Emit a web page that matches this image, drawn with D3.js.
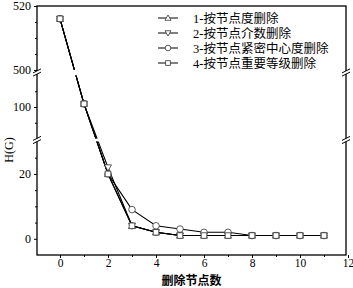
<!DOCTYPE html>
<html>
<head>
<meta charset="utf-8">
<script src="https://cdn.jsdelivr.net/npm/d3@7"></script>
<style>
  body { margin: 0; background: #fff; }
  svg { display: block; }
  .tick text { font-family: "Liberation Serif", "DejaVu Serif", serif; font-size: 12px; }
  .xax .tick text { font-size: 11.5px; }
</style>
</head>
<body>
<script>
const WIDTH = 353;
const HEIGHT = 288;

// values
const nodesRemoved = [0, 1, 2, 3, 4, 5, 6, 7, 8, 9, 10, 11];
const byDegree = [516, 101, 20, 4, 2, 1, 1, 1, 1, 1, 1, 1];
const byBetweenness = [516, 101, 22, 4, 2, 1, 1, 1, 1, 1, 1, 1];
const byCloseness = [516, 101, 20, 9, 4, 3, 2, 2, 1, 1, 1, 1];
const byImportance = [516, 101, 20, 4, 2, 1, 1, 1, 1, 1, 1, 1];
const seriesNames = ['1-按节点度删除', '2-按节点介数删除', '3-按节点紧密中心度删除', '4-按节点重要等级删除'];
const seriesSymbols = ['up', 'down', 'circle', 'square'];
const xTicks = [0, 2, 4, 6, 8, 10, 12];
const yMajorTicks = [[0, 20], [100], [500, 520]];
const yMinorTicks = [[5, 10, 15, 25], [95, 105], [505, 510, 515]];

const pLeft = 37, pRight = 346, pTop = 6, pBottom = 255;

var xScale = d3.scaleLinear().domain([-1, 12]).range([pLeft - 1, pRight + 2]);

// broken y axis: three pieces
var ySegments = [
  d3.scaleLinear().domain([-5, 30]).range([pBottom, 141.5]),
  d3.scaleLinear().domain([90, 110]).range([138.5, 75.5]),
  d3.scaleLinear().domain([500, 520]).range([70, pTop])
];
var yPos = function(v) {
  if (v <= 30) return ySegments[0](v);
  if (v <= 110) return ySegments[1](v);
  return ySegments[2](v);
};
var breaks = [140, 72.5];

var svg = d3.select('body').append('svg')
    .attr('width', WIDTH)
    .attr('height', HEIGHT);

// clip lines so they leave a gap at each break
var clip = svg.append('defs').append('clipPath').attr('id', 'plotclip');
ySegments.forEach(function(s, i) {
  var r = s.range();
  var y0 = Math.min(r[0], r[1]), y1 = Math.max(r[0], r[1]);
  if (i === 2) { y0 = pTop - 10; }
  if (i === 0) { y1 = pBottom + 10; }
  clip.append('rect')
      .attr('x', pLeft)
      .attr('y', y0)
      .attr('width', pRight - pLeft)
      .attr('height', y1 - y0);
});

// x axis
var gx = svg.append('g')
    .attr('class', 'xax')
    .attr('transform', 'translate(0,' + pBottom + ')')
    .call(d3.axisBottom(xScale).tickValues(xTicks).tickSize(3).tickPadding(1));
gx.select('.domain').remove();
svg.append('g')
    .attr('transform', 'translate(0,' + pBottom + ')')
    .call(d3.axisBottom(xScale).tickValues([1, 3, 5, 7, 9, 11]).tickSize(2).tickFormat(''))
    .select('.domain').remove();

// y axis pieces
ySegments.forEach(function(s, i) {
  var g = svg.append('g')
      .attr('transform', 'translate(' + pLeft + ',0)')
      .call(d3.axisLeft(s).tickValues(yMajorTicks[i]).tickSize(3).tickPadding(3));
  g.select('.domain').remove();
  svg.append('g')
      .attr('transform', 'translate(' + pLeft + ',0)')
      .call(d3.axisLeft(s).tickValues(yMinorTicks[i]).tickSize(2).tickFormat(''))
      .select('.domain').remove();
});

// frame
svg.append('rect')
    .attr('x', pLeft).attr('y', pTop)
    .attr('width', pRight - pLeft).attr('height', pBottom - pTop)
    .attr('fill', 'none').attr('stroke', '#000').attr('stroke-width', 1.3);

// break marks on both vertical axes
[pLeft, pRight].forEach(function(ax) {
  breaks.forEach(function(by) {
    svg.append('rect')
        .attr('x', ax - 2).attr('y', by - 1.5)
        .attr('width', 4).attr('height', 3)
        .attr('fill', '#fff');
    [-1.6, 1.6].forEach(function(off) {
      svg.append('line')
          .attr('x1', ax - 4).attr('y1', by + off + 2)
          .attr('x2', ax + 4).attr('y2', by + off - 2)
          .attr('stroke', '#000').attr('stroke-width', 1);
    });
  });
});

var symbolPath = function(type, size) {
  var h = size / 2;
  if (type === 'up') return 'M0,' + (-h) + 'L' + h + ',' + (h * 0.75) + 'L' + (-h) + ',' + (h * 0.75) + 'Z';
  if (type === 'down') return 'M0,' + h + 'L' + h + ',' + (-h * 0.75) + 'L' + (-h) + ',' + (-h * 0.75) + 'Z';
  if (type === 'square') return 'M' + (-h * 0.8) + ',' + (-h * 0.8) + 'h' + (h * 1.6) + 'v' + (h * 1.6) + 'h' + (-h * 1.6) + 'Z';
  return d3.symbol(d3.symbolCircle, size * size * 0.7)();
};

var allSeries = [byDegree, byBetweenness, byCloseness, byImportance];
var line = d3.line()
    .x(function(d, i) { return xScale(nodesRemoved[i]); })
    .y(function(d) { return yPos(d); });

var plot = svg.append('g');
allSeries.forEach(function(values) {
  plot.append('path')
      .attr('d', line(values))
      .attr('clip-path', 'url(#plotclip)')
      .attr('fill', 'none')
      .attr('stroke', '#000')
      .attr('stroke-width', 1.1);
});
allSeries.forEach(function(values, k) {
  plot.selectAll('.m' + k).data(values)
      .enter()
      .append('path')
      .attr('class', 'm' + k)
      .attr('transform', function(d, i) { return 'translate(' + xScale(nodesRemoved[i]) + ',' + yPos(d) + ')'; })
      .attr('d', symbolPath(seriesSymbols[k], 7))
      .attr('fill', '#fff')
      .attr('stroke', '#333')
      .attr('stroke-width', 0.8);
});

// legend
var legend = svg.append('g');
seriesNames.forEach(function(name, k) {
  var ly = 18 + k * 15;
  legend.append('line')
      .attr('x1', 158).attr('x2', 178).attr('y1', ly).attr('y2', ly)
      .attr('stroke', '#000').attr('stroke-width', 1);
  legend.append('path')
      .attr('transform', 'translate(168,' + ly + ')')
      .attr('d', symbolPath(seriesSymbols[k], 6))
      .attr('fill', '#fff').attr('stroke', '#333').attr('stroke-width', 0.8);
  legend.append('text')
      .attr('x', 193).attr('y', ly + 4.5)
      .attr('font-family', '"Liberation Serif", "Noto Sans CJK SC", serif')
      .attr('font-size', 12.5)
      .text(name);
});

// axis titles
svg.append('text')
    .attr('x', (pLeft + pRight) / 2).attr('y', 285)
    .attr('text-anchor', 'middle')
    .attr('font-family', '"Noto Sans CJK SC", sans-serif')
    .attr('font-size', 12)
    .attr('font-weight', 'bold')
    .text('删除节点数');

svg.append('text')
    .attr('transform', 'translate(13,150) rotate(-90)')
    .attr('text-anchor', 'middle')
    .attr('font-family', '"Liberation Serif", serif')
    .attr('font-size', 12)
    .text('H(G)');
</script>
</body>
</html>
